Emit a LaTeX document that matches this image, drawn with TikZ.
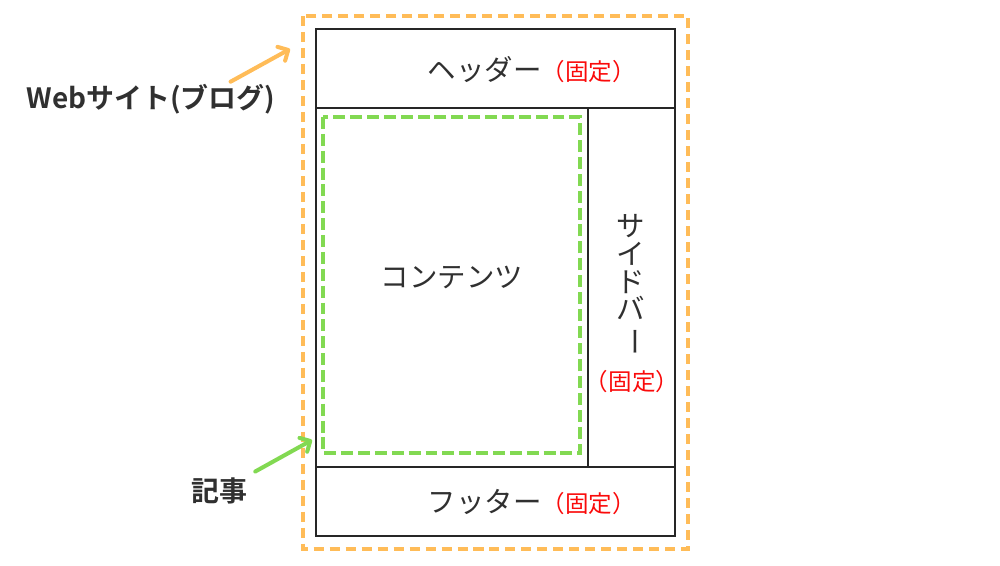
\documentclass[tikz,border=0pt]{standalone}
\usepackage{fontspec}
\setmainfont{Noto Sans CJK JP}[BoldFont={Noto Sans CJK JP Bold}]
\usepackage{tikz}
\usetikzlibrary{arrows.meta}
\definecolor{sitecol}{RGB}{255,188,88}
\definecolor{postcol}{RGB}{130,217,82}
\definecolor{textcol}{RGB}{48,48,48}
\definecolor{fixcol}{RGB}{250,10,10}
\newcommand{\fixtag}{{\fontsize{13.4}{13.4}\selectfont\color{fixcol}（固定）}}

\begin{document}
\begin{tikzpicture}[x=0.02cm,y=-0.02cm,
        label/.style={text=textcol,font=\fontsize{16.2}{15.9}\selectfont,inner sep=0pt},
        note/.style={text=textcol,font=\bfseries\fontsize{15.9}{15.9}\selectfont,inner sep=0pt},
        frame/.style={draw=black!85,line width=0.6pt},
        pointer/.style={line width=2.3pt,line cap=round,-{Straight Barb[round,length=4.5pt,width=9pt]}}]
        \useasboundingbox (0,0) rectangle (1000,565);
        \draw[frame] (316,29) rectangle (675,536);
        \draw[frame] (316,108) -- (675,108);
        \draw[frame] (316,467) -- (675,467);
        \draw[frame] (588,108) -- (588,467);
        \draw[sitecol,line width=2.3pt,dash pattern=on 5.7pt off 3.4pt] (303,16) rectangle (688,549);
        \draw[postcol,line width=2.3pt,dash pattern=on 6.8pt off 2.8pt] (323,117) rectangle (580,453);
        \node[label] (header) at (532,70) {ヘッダー\fixtag};
        \node[label] (content) at (452,277) {コンテンツ};
        \node[label,align=center] (sidebar) at (631,285) {サ\\イ\\ド\\バ\\\rotatebox[origin=c]{-90}{ー}};
        \node[label] (sidefix) at (632,382) {\fixtag};
        \node[label] (footer) at (532,502) {フッター\fixtag};
        \node[note] (site) at (151,99) {Webサイト(ブログ)};
        \node[note] (post) at (219,491) {記事};
        \coordinate (siteTip) at (290,49);
        \coordinate (postTip) at (312,440);
        \draw[pointer,sitecol] ([shift={(-45,-2)}]site.north east) -- (siteTip);
        \draw[pointer,postcol] ([shift={(8,-6)}]post.north east) -- (postTip);
\end{tikzpicture}
\end{document}
